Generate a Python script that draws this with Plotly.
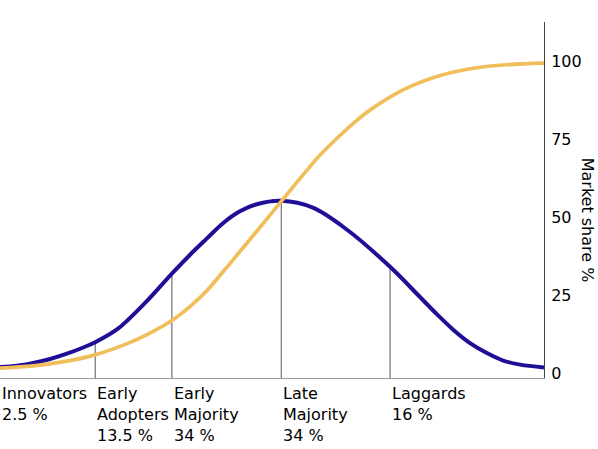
import plotly.graph_objects as go

# Bell curve: adoption share per period (blue)
bell_x = [0, 3.1, 6.1, 9.2, 12.3, 15.3, 17.5, 21.5, 23.6, 27.2, 31.6, 34.9, 38.1, 41.0,
          44.1, 47.2, 51.7, 57.5, 63.8, 71.7, 77.2, 80.3, 83.3, 86.4, 89.5, 92.5, 95.6, 100]
bell_y = [1.9, 2.3, 3.2, 4.5, 6.2, 8.2, 9.9, 14.0, 17.2, 23.5, 31.9, 37.9, 43.3, 48.1,
          51.9, 54.2, 55.3, 53.1, 46.0, 34.1, 24.4, 18.9, 13.9, 9.6, 6.4, 4.0, 2.7, 1.8]

# S-curve: cumulative market share (yellow)
share_x = [0, 6.1, 12.3, 17.6, 23.6, 27.2, 31.8, 34.9, 38.1, 41.0, 44.1, 47.2, 51.7,
           55.7, 58.8, 61.9, 64.9, 68.0, 74.1, 80.3, 86.4, 92.5, 100]
share_y = [1.6, 2.3, 3.8, 5.9, 9.6, 12.5, 17.1, 21.3, 26.6, 32.5, 39.0, 45.5, 55.1,
           63.6, 69.9, 75.3, 80.1, 84.4, 90.9, 95.2, 97.7, 98.9, 99.5]

# Segment boundaries and the bell height there
boundary_x = [17.5, 31.6, 51.7, 71.7]
boundary_y = [9.9, 31.9, 55.3, 34.1]

# Segment labels
segment_start = [0] + boundary_x
segment_names = ["Innovators", "Early<br>Adopters", "Early<br>Majority", "Late<br>Majority", "Laggards"]
segment_pct = ["2.5 %", "13.5 %", "34 %", "34 %", "16 %"]

y_ticks = [0, 25, 50, 75, 100]
y_min, y_max = -1.6, 112.7

FONT = "DejaVu Sans"
BLUE = "#1f0f96"
YELLOW = "#f0be5a"

fig = go.Figure()

vx, vy = [], []
for bx, by in zip(boundary_x, boundary_y):
    vx += [bx, bx, None]
    vy += [y_min, by, None]
fig.add_trace(go.Scatter(x=vx, y=vy, mode="lines", line=dict(color="#555555", width=1),
                         hoverinfo="skip", showlegend=False))

fig.add_trace(go.Scatter(x=bell_x, y=bell_y, mode="lines",
                         line=dict(color=BLUE, width=4, shape="spline", smoothing=1.0),
                         showlegend=False))
fig.add_trace(go.Scatter(x=share_x, y=share_y, mode="lines",
                         line=dict(color=YELLOW, width=3.7, shape="spline", smoothing=1.0),
                         showlegend=False))

annotations = []
for sx, name, pct in zip(segment_start, segment_names, segment_pct):
    annotations.append(dict(x=sx, xref="x", y=-0.012, yref="paper",
                            text=f"{name}<br>{pct}", showarrow=False,
                            xanchor="left", yanchor="top", align="left", xshift=0,
                            font=dict(family=FONT, size=16, color="#000000")))
annotations.append(dict(x=1.0795, xref="paper", y=0.444, yref="paper",
                        text="Market share %", textangle=90, showarrow=False,
                        xanchor="center", yanchor="middle",
                        font=dict(family=FONT, size=16, color="#000000")))

fig.update_layout(
    width=598, height=449,
    margin=dict(l=0, r=54, t=22, b=71),
    paper_bgcolor="white", plot_bgcolor="white",
    font=dict(family=FONT, size=16, color="#000000"),
    annotations=annotations,
    xaxis=dict(range=[0, 100], showline=True, linecolor="#999999", linewidth=1,
               showticklabels=False, ticks="", showgrid=False, zeroline=False),
    yaxis=dict(range=[y_min, y_max], side="right", showline=True, linecolor="#444444",
               linewidth=1, tickvals=y_ticks, ticks="", ticklabelstandoff=3,
               showgrid=False, zeroline=False,
               tickfont=dict(family=FONT, size=16, color="#000000")),
)

fig.write_html("out.html", config={"displayModeBar": False},
               post_script="document.body.style.margin='0';document.body.style.overflow='hidden';")
